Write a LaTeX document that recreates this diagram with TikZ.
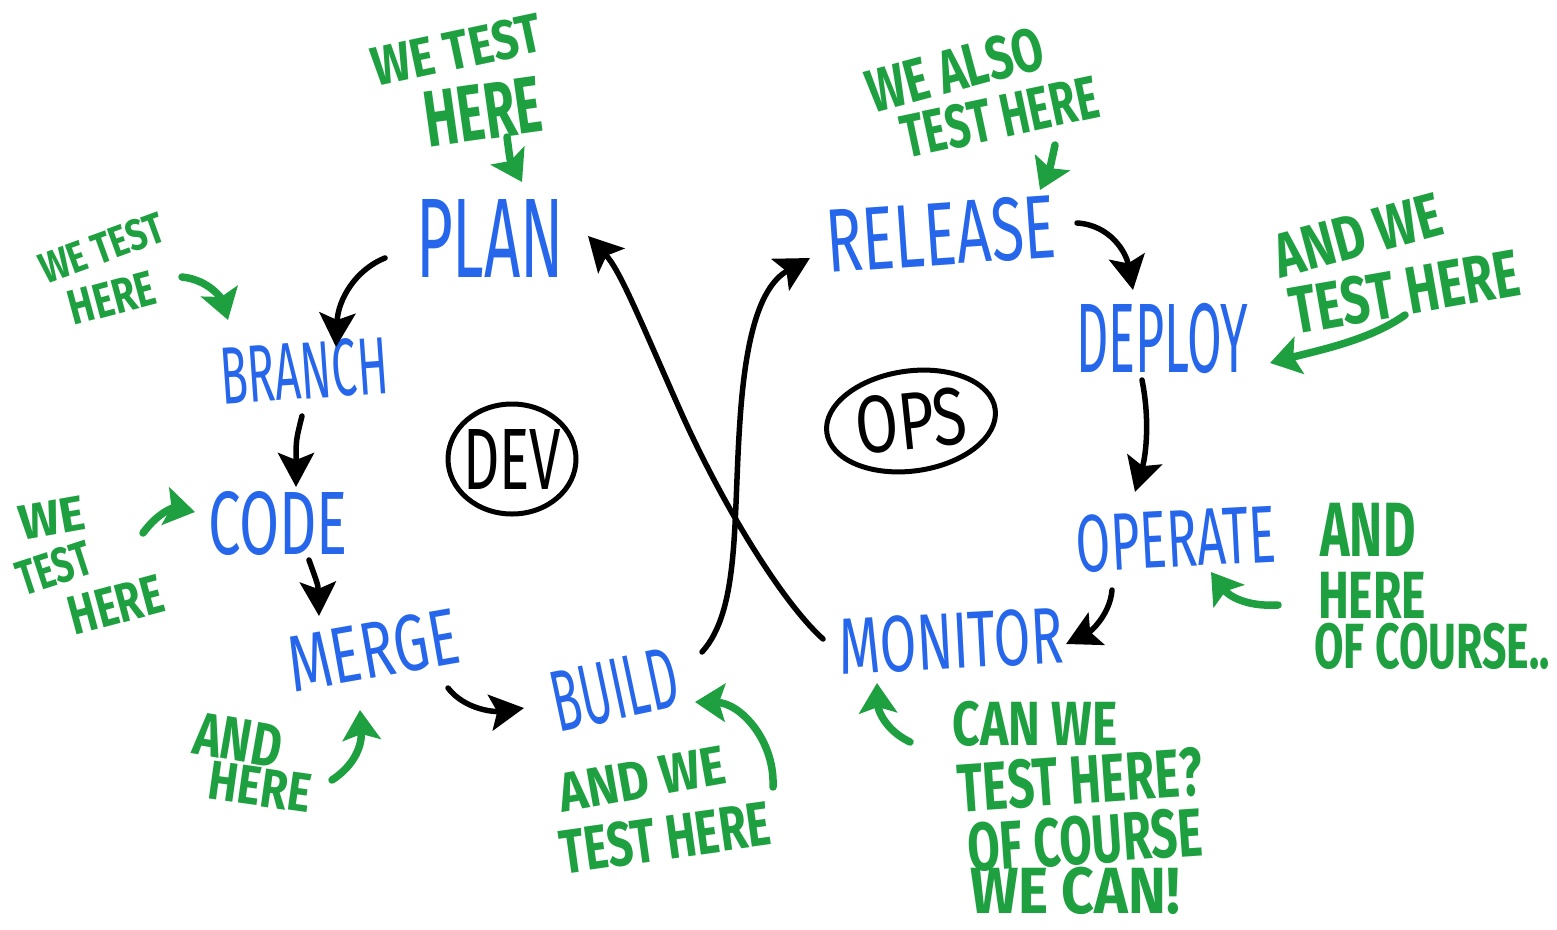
\documentclass[tikz,border=0pt]{standalone}
\usepackage{fontspec}
\usepackage{graphicx}
\setmainfont{Fira Sans}
\usetikzlibrary{arrows.meta}
\definecolor{blueink}{RGB}{38,102,235}
\definecolor{greenink}{RGB}{30,160,64}
\newlength\fwnat
% #1 = width, #2 = cap height (pt); sets text at that cap height, stretched to that width
\newcommand{\fitword}[3]{%
  \pgfmathsetmacro\fwsize{#2/0.689}%
  \fontsize{\fwsize pt}{\fwsize pt}\selectfont
  \settowidth\fwnat{#3}%
  \pgfmathsetmacro\fwstretch{#1/\fwnat}%
  \edef\fwdo{\noexpand\addfontfeature{FakeStretch=\fwstretch}}\fwdo
  #3}
\begin{document}
\begin{tikzpicture}[x=1pt,y=-1pt,
  stage/.style={text=blueink, inner sep=0pt},
  note/.style={text=greenink, inner sep=0pt, font=\bfseries},
  badge/.style={inner sep=0pt, text=black},
  ring/.style={draw=black, line width=5pt},
  flow/.style={black, line width=5.5pt, line cap=round, -{Stealth[length=34pt,width=36pt,inset=7pt]}},
  hint/.style={greenink, line width=7.5pt, line cap=round, -{Stealth[length=30pt,width=38pt,inset=6pt]}}]
\fill[white] (0,0) rectangle (1557,929);
\useasboundingbox (0,0) rectangle (1557,929);

% stages
\node[stage] (plan) at (490,238) {\fitword{148}{78}{PLAN}};
\node[stage,rotate=4] (release) at (941,234) {\fitword{230}{62}{RELEASE}};
\node[stage,rotate=4] (branch) at (304,371) {\fitword{168}{56}{BRANCH}};
\node[stage] (code) at (278,523) {\fitword{140}{62}{CODE}};
\node[stage,rotate=10] (merge) at (373,650) {\fitword{172}{55}{MERGE}};
\node[stage,rotate=12] (build) at (615,690) {\fitword{128}{60}{BUILD}};
\node[stage] (deploy) at (1162,338) {\fitword{172}{68}{DEPLOY}};
\node[stage,rotate=3] (operate) at (1176,539) {\fitword{200}{56}{OPERATE}};
\node[stage,rotate=3] (monitor) at (951,641) {\fitword{224}{55}{MONITOR}};

% badges
\node[badge] (dev) at (512,459) {\fitword{98}{60}{DEV}};
\draw[ring] (dev.center) ellipse [x radius=64, y radius=55];
\node[badge,rotate=6] (ops) at (911,421) {\fitword{112}{56}{OPS}};
\draw[ring, rotate around={8:(ops.center)}] (ops.center) ellipse [x radius=85, y radius=50];

% green notes
\node[note,rotate=12] (n1a) at (457,50) {\fitword{172}{38}{WE TEST}};
\node[note,rotate=8] (n1b) at (483,112) {\fitword{118}{55}{HERE}};
\node[note,rotate=15] (n2a) at (955,70) {\fitword{180}{42}{WE ALSO}};
\node[note,rotate=12] (n2b) at (1000,117) {\fitword{200}{42}{TEST HERE}};
\node[note,rotate=20] (n3a) at (102,248) {\fitword{130}{30}{WE TEST}};
\node[note,rotate=15] (n3b) at (112,298) {\fitword{88}{34}{HERE}};
\node[note,rotate=10] (n4a) at (52,518) {\fitword{66}{34}{WE}};
\node[note,rotate=18] (n4b) at (54,568) {\fitword{76}{34}{TEST}};
\node[note,rotate=15] (n4c) at (116,605) {\fitword{96}{38}{HERE}};
\node[note,rotate=-10] (n5a) at (238,740) {\fitword{88}{42}{AND}};
\node[note,rotate=-8] (n5b) at (260,787) {\fitword{103}{38}{HERE}};
\node[note,rotate=10] (n6a) at (642,779) {\fitword{168}{38}{AND WE}};
\node[note,rotate=8] (n6b) at (665,838) {\fitword{212}{43}{TEST HERE}};
\node[note,rotate=15] (n7a) at (1358,235) {\fitword{172}{43}{AND WE}};
\node[note,rotate=10] (n7b) at (1405,292) {\fitword{232}{46}{TEST HERE}};
\node[note] (n8a) at (1368,530) {\fitword{95}{53}{AND}};
\node[note] (n8b) at (1372,595) {\fitword{108}{46}{HERE}};
\node[note] (n8c) at (1432,646) {\fitword{232}{44}{OF\,COURSE..}};
\node[note] (n9a) at (1035,724) {\fitword{165}{43}{CAN WE}};
\node[note,rotate=4] (n9b) at (1080,780) {\fitword{245}{47}{TEST HERE?}};
\node[note,rotate=4] (n9c) at (1085,840) {\fitword{235}{47}{OF COURSE}};
\node[note] (n9d) at (1075,891) {\fitword{210}{45}{WE CAN!}};

% connector end points
\coordinate (planout) at (385,258);
\coordinate (branchin) at (336,347);
\coordinate (branchout) at (302,416);
\coordinate (codein) at (296,487);
\coordinate (codeout) at (309,560);
\coordinate (mergein) at (319,616);
\coordinate (mergeout) at (448,688);
\coordinate (buildin) at (524,708);
\coordinate (buildout) at (702,652);
\coordinate (releasein) at (810,258);
\coordinate (releaseout) at (1077,223);
\coordinate (deployin) at (1133,290);
\coordinate (deployout) at (1142,380);
\coordinate (operatein) at (1135,492);
\coordinate (operateout) at (1112,590);
\coordinate (monitorin) at (1066,644);
\coordinate (monitorout) at (823,639);
\coordinate (planin) at (588,236);

% black flow
\draw[flow] (planout) .. controls (355,270) and (338,300) .. (branchin);
\draw[flow] (branchout) .. controls (296,440) .. (codein);
\draw[flow] (codeout) .. controls (318,585) .. (mergein);
\draw[flow] (mergeout) .. controls (465,710) and (495,712) .. (buildin);
\draw[flow] (buildout) .. controls (740,610) and (733,520) .. (740,420) .. controls (746,330) and (762,285) .. (releasein);
\draw[flow] (monitorout) .. controls (780,600) and (720,500) .. (680,410) .. controls (640,320) and (620,270) .. (planin);
\draw[flow] (releaseout) .. controls (1110,225) and (1126,252) .. (deployin);
\draw[flow] (deployout) .. controls (1150,420) and (1146,455) .. (operatein);
\draw[flow] (operateout) .. controls (1110,615) and (1090,632) .. (monitorin);

% green hint arrows
\coordinate (h1s) at (507,137); \coordinate (h1e) at (522,182);
\coordinate (h2s) at (1055,145); \coordinate (h2e) at (1040,190);
\coordinate (h3s) at (182,277); \coordinate (h3e) at (228,320);
\coordinate (h4s) at (143,533); \coordinate (h4e) at (195,512);
\coordinate (h5s) at (332,780); \coordinate (h5e) at (360,710);
\coordinate (h6s) at (773,787); \coordinate (h6e) at (695,702);
\coordinate (h7s) at (1405,315); \coordinate (h7e) at (1270,363);
\coordinate (h8s) at (1278,605); \coordinate (h8e) at (1211,572);
\coordinate (h9s) at (910,742); \coordinate (h9e) at (877,683);
\draw[hint] (h1s) .. controls (510,160) .. (h1e);
\draw[hint] (h2s) .. controls (1050,168) .. (h2e);
\draw[hint] (h3s) .. controls (210,280) and (222,300) .. (h3e);
\draw[hint] (h4s) .. controls (160,510) and (175,508) .. (h4e);
\draw[hint] (h5s) .. controls (355,765) and (362,745) .. (h5e);
\draw[hint] (h6s) .. controls (775,740) and (740,703) .. (h6e);
\draw[hint] (h7s) .. controls (1370,340) and (1320,350) .. (h7e);
\draw[hint] (h8s) .. controls (1245,607) and (1228,595) .. (h8e);
\draw[hint] (h9s) .. controls (885,730) and (878,710) .. (h9e);
\end{tikzpicture}
\end{document}
